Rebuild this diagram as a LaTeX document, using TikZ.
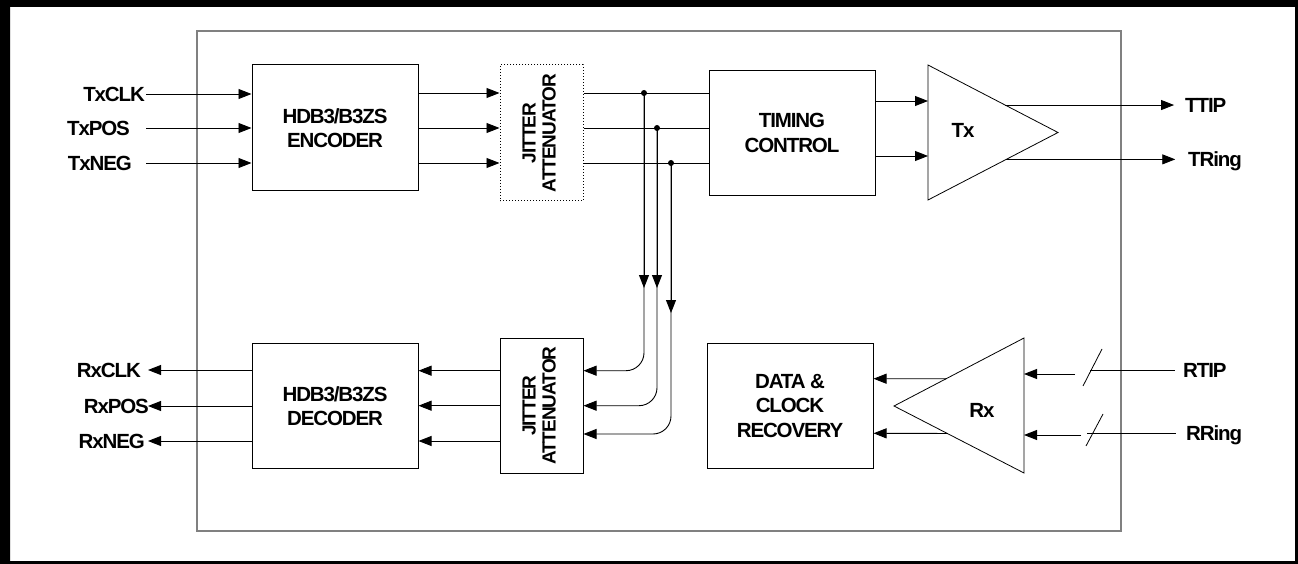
\documentclass[tikz,border=0pt]{standalone}
\usepackage{fontspec}
\setmainfont{Liberation Sans}[LetterSpace=-5.5]
\usetikzlibrary{positioning, arrows.meta, calc}
\definecolor{frame}{HTML}{808080}

\begin{document}
\begin{tikzpicture}[x=1pt, y=-1pt, font=\bfseries\fontsize{20.5}{24.5}\selectfont,
  blk/.style={draw, line width=1pt, inner sep=0pt, align=center},
  jit/.style={blk, minimum width=83, minimum height=136, font=\bfseries\fontsize{19}{20}\selectfont},
  lbl/.style={inner sep=0pt},
  arr/.style={-{Triangle[length=13pt, width=10pt]}, line width=0.9pt},
  wire/.style={line width=0.9pt}
]
  \useasboundingbox (0,0) rectangle (1298,564);
  \fill[even odd rule] (0,0) rectangle (1298,564) (10,7) rectangle (1295,561);
  \draw[frame, line width=1.6pt] (197,31) rectangle (1121,531);

  % blocks
  \node[blk, minimum width=166, minimum height=126] (enc) at (335,128) {HDB3/B3ZS\\ENCODER};
  \node[jit, dotted] (jtx) at (541.5,133) {\rotatebox{90}{\begin{tabular}{@{}c@{}}JITTER\\ATTENUATOR\end{tabular}}};
  \node[blk, minimum width=166, minimum height=125] (tc) at (792,133) {TIMING\\CONTROL};
  \node[blk, minimum width=166, minimum height=125] (dec) at (335,406) {HDB3/B3ZS\\DECODER};
  \node[jit, minimum height=135] (jrx) at (541.5,405.7) {\rotatebox{90}{\begin{tabular}{@{}c@{}}JITTER\\ATTENUATOR\end{tabular}}};
  \node[blk, minimum width=166, minimum height=125] (dcr) at (790,406) {DATA \&\\CLOCK\\RECOVERY};

  % amplifiers
  \draw[line width=0.8pt] (928,65) coordinate (txa) -- (1058,132.5) coordinate (txt) -- (928,200) coordinate (txb) -- cycle;
  \node[lbl] (tx) at (963,130) {Tx};
  \draw[line width=0.8pt] (1024,338) coordinate (rxa) -- (894,406) coordinate (rxt) -- (1024,473) coordinate (rxb) -- cycle;
  \node[lbl] (rx) at (982,410) {Rx};

  % transmit inputs
  \foreach \y/\t/\x in {94/TxCLK/145, 128/TxPOS/130, 163/TxNEG/132} {
    \node[lbl, anchor=base east] (in\t) at (\x,\y+7.3) {\t};
    \coordinate (s\t) at (146,\y);
    \draw[arr] (s\t) -- (enc.west |- s\t);
  }
  \foreach \y in {93,128,163}
    \draw[arr] (enc.east |- 0,\y) -- (jtx.west |- 0,\y);

  % taps to the receive jitter attenuator
  \foreach \y/\x/\s/\e in {93/644/288/370.7, 128/657/288/405.7, 163/671/313/434} {
    \draw[wire] (jtx.east |- 0,\y) -- (tc.west |- 0,\y);
    \coordinate (d\y) at (\x,\y);
    \fill (d\y) circle (3);
    \draw[arr] (d\y) -- (\x,\s);
    \draw[arr, rounded corners=18pt] (d\y) -- (\x,\e) -- (jrx.east |- 0,\e);
  }
  \foreach \y in {370.7,405.7,441}
    \draw[arr] (jrx.west |- 0,\y) -- (dec.east |- 0,\y);

  % receive outputs
  \foreach \y/\t/\x in {370/RxCLK/141, 406/RxPOS/149, 441/RxNEG/145} {
    \node[lbl, anchor=base east] (out\t) at (\x,\y+7.3) {\t};
    \coordinate (e\t) at (148,\y);
    \draw[arr] (dec.west |- e\t) -- (e\t);
  }

  % line driver
  \draw[arr] (tc.east |- 0,101) -- (txa |- 0,101);
  \draw[arr] (tc.east |- 0,156) -- (txa |- 0,156);
  \node[lbl, anchor=base west] (ttip) at (1185,105+7.3) {TTIP};
  \node[lbl, anchor=base west] (tring) at (1188,159+7.3) {TRing};
  \draw[arr] ($(txa)!0.593!(txt)$) -- ++(169,0) coordinate (ttipend);
  \draw[arr] ($(txb)!0.602!(txt)$) -- ++(169,0) coordinate (tringend);

  % line receiver
  \node[lbl, anchor=base west] (rtip) at (1183,370+7.3) {RTIP};
  \node[lbl, anchor=base west] (rring) at (1186,433+7.3) {RRing};
  \coordinate (rtipend) at (1175,370);
  \coordinate (rringend) at (1176,433);
  \draw[wire] (1090,370) -- (rtipend);
  \draw[wire] (1087,433) -- (rringend);
  \draw[arr] (1075,374) -- (rxa |- 0,374);
  \draw[arr] (1081,435) -- (rxa |- 0,435);
  \draw[line width=0.8pt] (1083,386) -- (1102,349);
  \draw[line width=0.8pt] (1086,446) -- (1103,414);
  \draw[arr] ($(rxa)!0.6!(rxt)$) -- (dcr.east |- 0,378.7);
  \draw[arr] ($(rxb)!0.59!(rxt)$) -- (dcr.east |- 0,433.3);
\end{tikzpicture}
\end{document}
